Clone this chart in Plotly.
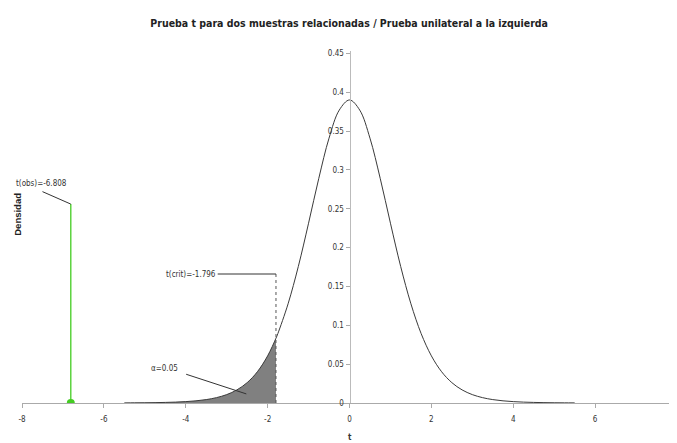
import plotly.graph_objects as go

# Student t density (df = 11)
t_values = [-5.5, -5.25, -5.0, -4.75, -4.5, -4.25, -4.0, -3.75, -3.5, -3.25, -3.0, -2.75,
            -2.5, -2.25, -2.0, -1.796, -1.75, -1.5, -1.25, -1.0, -0.75, -0.5, -0.25, 0.0,
            0.25, 0.5, 0.75, 1.0, 1.25, 1.5, 1.75, 2.0, 2.25, 2.5, 2.75, 3.0, 3.25, 3.5,
            3.75, 4.0, 4.25, 4.5, 4.75, 5.0, 5.25, 5.5]
density = [0.00014, 0.00021, 0.00032, 0.00048, 0.00074, 0.00115, 0.00178, 0.00279, 0.00438,
           0.00688, 0.0108, 0.01689, 0.02622, 0.04023, 0.06066, 0.08337, 0.08935, 0.12767,
           0.17578, 0.23138, 0.28915, 0.3408, 0.37695, 0.38999, 0.37695, 0.3408, 0.28915,
           0.23138, 0.17578, 0.12767, 0.08935, 0.06066, 0.04023, 0.02622, 0.01689, 0.0108,
           0.00688, 0.00438, 0.00279, 0.00178, 0.00115, 0.00074, 0.00048, 0.00032, 0.00021,
           0.00014]
t_crit = -1.796
t_obs = -6.808
alpha = 0.05
x_ticks = [-8, -6, -4, -2, 0, 2, 4, 6, 8]
y_ticks = [0, 0.05, 0.1, 0.15, 0.2, 0.25, 0.3, 0.35, 0.4, 0.45]

NARROW = "Liberation Sans Narrow, Arial Narrow, DejaVu Sans Condensed, sans-serif"
TXT = "#333333"

reg_x = [x for x in t_values if x <= t_crit]
reg_y = [y for x, y in zip(t_values, density) if x <= t_crit]

fig = go.Figure()
fig.add_trace(go.Scatter(x=reg_x, y=reg_y, mode="lines", fill="tozeroy",
                         fillcolor="#808080", line=dict(width=0, color="#808080"),
                         line_shape="spline", hoverinfo="skip"))
fig.add_trace(go.Scatter(x=t_values, y=density, mode="lines",
                         line=dict(color="#3a3a3a", width=1), line_shape="spline"))
# observed t line and dot
fig.add_trace(go.Scatter(x=[t_obs, t_obs], y=[0, 0.256], mode="lines",
                         line=dict(color="#44cc22", width=1.3)))
fig.add_trace(go.Scatter(x=[t_obs], y=[0], mode="markers",
                         marker=dict(color="#44cc22", size=8)))

shapes = [
    dict(type="line", x0=t_crit, x1=t_crit, y0=0, y1=0.166,
         line=dict(color="#555555", width=1, dash="dot")),
    dict(type="line", x0=-3.22, x1=t_crit, y0=0.166, y1=0.166,
         line=dict(color="#333333", width=1)),
    dict(type="line", x0=-3.99, x1=-2.52, y0=0.037, y1=0.0117,
         line=dict(color="#333333", width=1)),
    dict(type="line", x0=-7.5, x1=t_obs, y0=0.272, y1=0.256,
         line=dict(color="#333333", width=1)),
]
annotations = [
    dict(x=-7.53, y=0.282, text="t(obs)=%.3f" % t_obs, showarrow=False,
         font=dict(family=NARROW, size=8, color=TXT)),
    dict(x=-3.88, y=0.166, text="t(crit)=%.3f" % t_crit, showarrow=False,
         font=dict(family=NARROW, size=8, color=TXT)),
    dict(x=-4.52, y=0.044, text="α=%.2f" % alpha, showarrow=False,
         font=dict(family=NARROW, size=8, color=TXT)),
    dict(xref="paper", yref="paper", x=-0.006, y=0.535, text="<b>Densidad</b>",
         textangle=-90, showarrow=False, xanchor="center", yanchor="middle",
         font=dict(family="Liberation Sans, Arial, sans-serif", size=9.5, color="#222222")),
    dict(xref="x", yref="paper", x=0, y=-0.097, text="<b>t</b>", showarrow=False,
         xanchor="center", yanchor="middle",
         font=dict(family=NARROW, size=8, color=TXT)),
]

fig.update_layout(
    width=669, height=435,
    margin=dict(l=14, r=0, t=43, b=40, autoexpand=False),
    paper_bgcolor="white", plot_bgcolor="white",
    showlegend=False,
    title=dict(text="<b>Prueba t para dos muestras relacionadas / Prueba unilateral a la izquierda</b>",
               x=0.51, xanchor="center", y=0.965, yanchor="middle",
               font=dict(family=NARROW, size=10.5, color="#222222"), automargin=False),
    shapes=shapes, annotations=annotations,
    xaxis=dict(range=[-8, 8], tickvals=x_ticks, ticktext=[str(v) for v in x_ticks],
               showgrid=False, zeroline=False, showline=True, linecolor="#aaaaaa",
               ticks="outside", ticklen=4, tickcolor="#aaaaaa", ticklabelstandoff=4,
               tickfont=dict(family=NARROW, size=8, color=TXT),
               automargin=False, fixedrange=True),
    yaxis=dict(range=[0, 0.453], tickvals=y_ticks, ticktext=[str(v) for v in y_ticks],
               anchor="free", position=0.5, showgrid=False, zeroline=False,
               showline=True, linecolor="#bbbbbb", ticks="outside", ticklen=4,
               tickcolor="#aaaaaa", tickfont=dict(family=NARROW, size=8, color=TXT),
               automargin=False, fixedrange=True),
)

fig.write_html("out.html")
